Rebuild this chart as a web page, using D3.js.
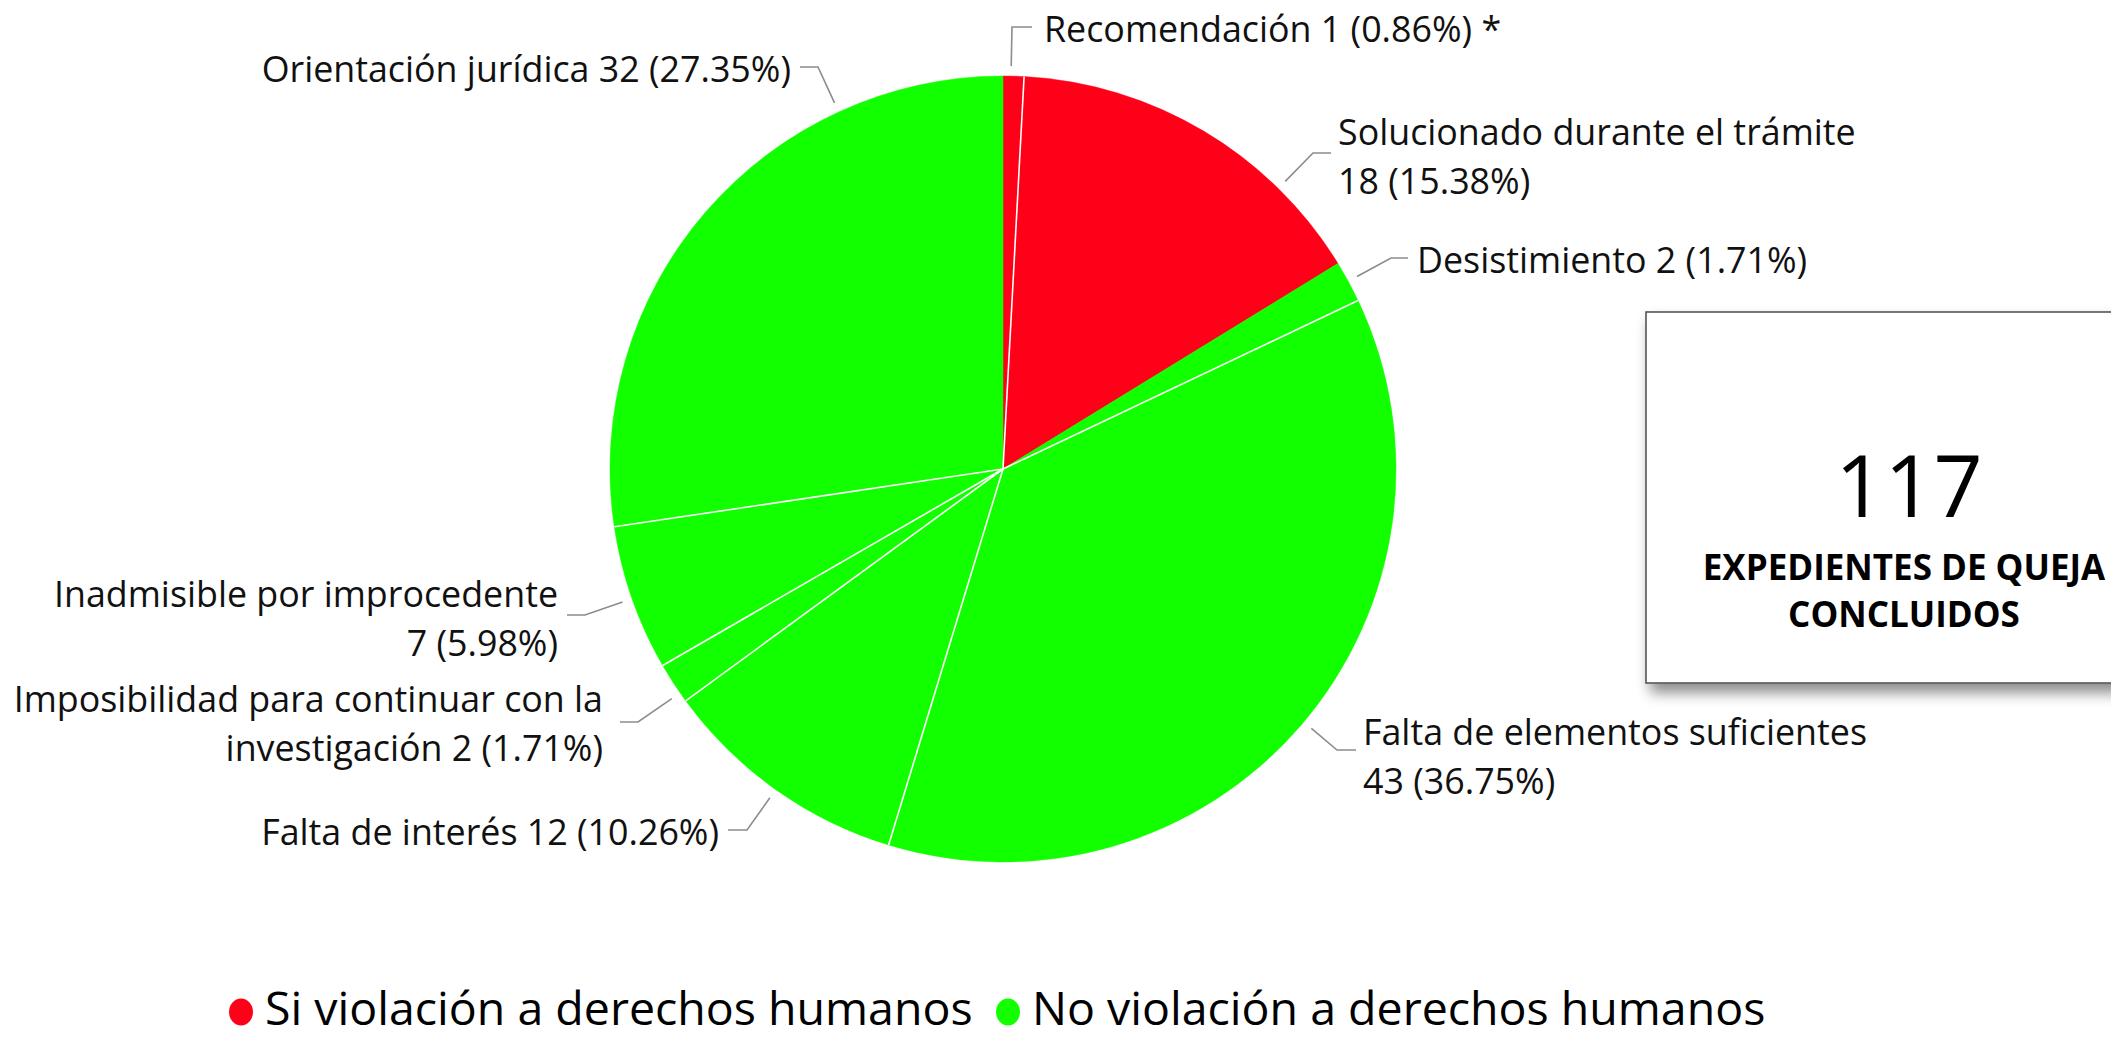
<!DOCTYPE html>
<html>
<head>
<meta charset="utf-8">
<script src="https://cdn.jsdelivr.net/npm/d3@7"></script>
<style>
  html, body { margin: 0; padding: 0; background: #fff; }
  svg { display: block; font-family: "Open Sans", Lato, sans-serif; }
</style>
</head>
<body>
<svg id="chart" width="2111" height="1038"></svg>
<script>
// ---- data ----
const categories = [
  "Recomendación",
  "Solucionado durante el trámite",
  "Desistimiento",
  "Falta de elementos suficientes",
  "Falta de interés",
  "Imposibilidad para continuar con la investigación",
  "Inadmisible por improcedente",
  "Orientación jurídica"
];
const values = [1, 18, 2, 43, 12, 2, 7, 32];
const percentLabels = ["0.86%", "15.38%", "1.71%", "36.75%", "10.26%", "1.71%", "5.98%", "27.35%"];
const labelSuffix = [" *", "", "", "", "", "", "", ""];
const groups = ["Si", "Si", "No", "No", "No", "No", "No", "No"];
const legendGroups = ["Si", "No"];
const legendLabels = ["Si violación a derechos humanos", "No violación a derechos humanos"];
const totalValue = "117";
const boxLines = ["EXPEDIENTES DE QUEJA", "CONCLUIDOS"];

// ---- layout (positions only) ----
const cx = 1003, cy = 469, R = 393;
const labelLayout = [
  { side: "r", elbow: [1012, 27],  endX: 1032, textX: 1044, baseY: 42,  words: 0 },
  { side: "r", elbow: [1313, 153], endX: 1331, textX: 1338, baseY: 145, words: 4 },
  { side: "r", elbow: [1391, 258], endX: 1408, textX: 1417, baseY: 273, words: 0 },
  { side: "r", elbow: [1337, 750], endX: 1356, textX: 1363, baseY: 745, words: 4 },
  { side: "l", elbow: [747, 830],  endX: 728,  textX: 719,  baseY: 845, words: 0 },
  { side: "l", elbow: [638, 722],  endX: 620,  textX: 603,  baseY: 712, words: 5 },
  { side: "l", elbow: [585, 615],  endX: 567,  textX: 558,  baseY: 607, words: 3 },
  { side: "l", elbow: [818, 67],   endX: 800,  textX: 791,  baseY: 82,  words: 0 }
];
const lineGap = 49;

const color = d3.scaleOrdinal().domain(legendGroups).range(["#ff0019", "#12ff00"]);

const svg = d3.select("#chart");

// drop shadow filter
const defs = svg.append("defs");
const f = defs.append("filter").attr("id", "shadow").attr("x", "-10%").attr("y", "-10%").attr("width", "130%").attr("height", "130%");
f.append("feDropShadow").attr("dx", 5).attr("dy", 9).attr("stdDeviation", 7).attr("flood-color", "#000").attr("flood-opacity", 0.45);

// ---- pie ----
const pie = d3.pie().sort(null).value(d => d.v);
const arcs = pie(values.map((v, i) => ({ v, i })));
const arcGen = d3.arc().innerRadius(0).outerRadius(R);

const g = svg.append("g").attr("transform", `translate(${cx},${cy})`);
g.selectAll("path.slice").data(arcs).join("path")
  .attr("class", "slice")
  .attr("d", arcGen)
  .attr("fill", d => color(groups[d.data.i]))
  .attr("stroke", d => color(groups[d.data.i]))
  .attr("stroke-width", 0.5);

// white separators between same-coloured neighbours
const seps = arcs.filter((d, k) => {
  const prev = arcs[(k - 1 + arcs.length) % arcs.length];
  return groups[prev.data.i] === groups[d.data.i];
});
g.selectAll("line.sep").data(seps).join("line")
  .attr("class", "sep")
  .attr("x1", 0).attr("y1", 0)
  .attr("x2", d => R * Math.sin(d.startAngle))
  .attr("y2", d => -R * Math.cos(d.startAngle))
  .attr("stroke", "#fff").attr("stroke-width", 1.6);

// ---- labels + leaders ----
const lg = svg.append("g");
arcs.forEach((d, k) => {
  const L = labelLayout[k];
  const ex = L.elbow[0], ey = L.elbow[1];
  const dx = ex - cx, dy = ey - cy, len = Math.hypot(dx, dy);
  const sr = R + 10;
  const sx = cx + dx / len * sr, sy = cy + dy / len * sr;
  lg.append("polyline")
    .attr("points", [[sx, sy], [ex, ey], [L.endX, ey]].map(p => p.join(",")).join(" "))
    .attr("fill", "none").attr("stroke", "#8c8c8c").attr("stroke-width", 1.6);

  const full = `${categories[k]} ${values[k]} (${percentLabels[k]})${labelSuffix[k]}`;
  let lines = [full];
  if (L.words > 0) {
    const w = full.split(" ");
    lines = [w.slice(0, L.words).join(" "), w.slice(L.words).join(" ")];
  }
  const t = lg.append("text")
    .attr("text-anchor", L.side === "r" ? "start" : "end")
    .attr("font-size", 35.8)
    .attr("fill", "#111");
  lines.forEach((ln, j) => {
    t.append("tspan").attr("x", L.textX).attr("y", L.baseY + j * lineGap).text(ln);
  });
});

// ---- total box ----
svg.append("rect")
  .attr("x", 1646).attr("y", 312).attr("width", 560).attr("height", 371)
  .attr("fill", "#fff").attr("stroke", "#555").attr("stroke-width", 1.6)
  .attr("filter", "url(#shadow)");
svg.append("text").attr("x", 1909).attr("y", 517).attr("text-anchor", "middle")
  .attr("font-size", 86).attr("fill", "#000").text(totalValue);
boxLines.forEach((s, j) => {
  svg.append("text").attr("x", 1904).attr("y", 580 + j * 47).attr("text-anchor", "middle")
    .attr("font-size", 35).attr("font-weight", "bold").attr("fill", "#000").text(s);
});

// ---- legend ----
const legendX = [241, 1008];
const leg = svg.append("g");
legendGroups.forEach((grp, j) => {
  leg.append("ellipse").attr("cx", legendX[j]).attr("cy", 1012).attr("rx", 12).attr("ry", 13.5)
    .attr("fill", color(grp));
  leg.append("text").attr("x", legendX[j] + 24).attr("y", 1025)
    .attr("font-size", 46.5).attr("fill", "#000").text(legendLabels[j]);
});
</script>
</body>
</html>
